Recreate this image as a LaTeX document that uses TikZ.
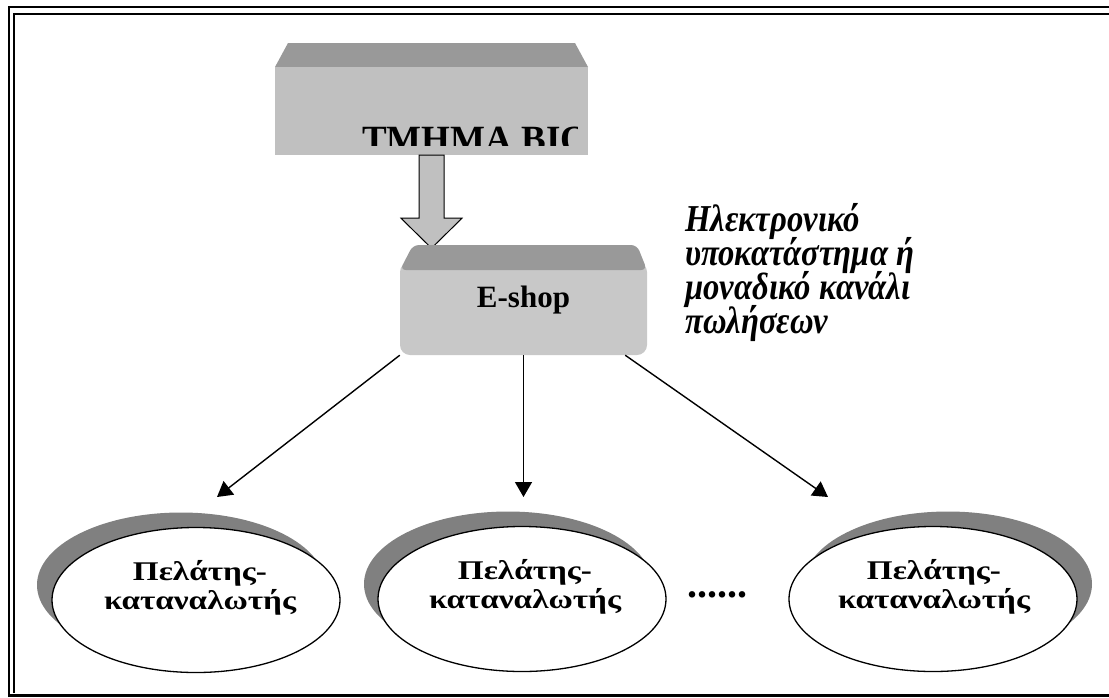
\documentclass[tikz,border=0pt]{standalone}
\usepackage{fontspec}
\setmainfont{Liberation Serif}
\newfontfamily\wideserif[FakeStretch=1.23]{Liberation Serif}
\newfontfamily\narrowserif[FakeStretch=0.86]{Liberation Serif}
\newcommand\notesetup{\fontsize{38}{34}\selectfont\lineskiplimit=-30pt\relax}
\usetikzlibrary{arrows.meta,shapes.geometric,shadows}
\definecolor{bevel}{HTML}{999999}
\definecolor{face}{HTML}{C0C0C0}
\definecolor{eface}{HTML}{C8C8C8}
\definecolor{shade}{HTML}{808080}
\begin{document}
\begin{tikzpicture}[x=1pt,y=-1pt,
  frameline/.style={line width=2.3pt},
  conn/.style={line width=1.4pt,-{Triangle[length=15pt,width=17pt]}},
  client/.style={ellipse, draw, line width=1.3pt, fill=white,
    minimum width=288pt, minimum height=145pt, inner sep=0pt},
  clienttext/.style={font=\wideserif\bfseries\fontsize{27}{28.5}\selectfont, align=center, inner sep=0pt},
  boxtext/.style={inner sep=0pt, font=\bfseries\fontsize{31}{31}\selectfont},
  notetext/.style={align=left, inner sep=0pt,
    font=\narrowserif\bfseries\itshape\notesetup},
  ]
\useasboundingbox (0,0) rectangle (1109,697);
% frame
\draw[frameline] (9,697) -- (9,7) -- (1109,7);
\draw[frameline] (14.3,693) -- (14.3,14) -- (1109,14);
\draw[line width=3pt] (9,695) -- (1109,695);

% top 3D box
\fill[bevel] (275,67) -- (288,43) -- (575,43) -- (588,67) -- cycle;
\node[fill=face, minimum width=313pt, minimum height=88pt, inner sep=0pt] (top) at (431.5,111) {};
\begin{scope}
\clip (275,67) rectangle (577,145);
\node[anchor=base west, inner sep=0pt, font=\bfseries\fontsize{37}{37}\selectfont] (toptext) at (362,151) {ΤΜΗΜΑ ΒΙΟ};
\end{scope}

% block arrow
\draw[fill=face, line width=1pt] (top.south) ++(-12.5,0) -- ++(0,63) -- ++(-18,0)
  -- ++(30.5,30) -- ++(30.5,-30) -- ++(-18,0) -- ++(0,-63) -- cycle;

% E-shop 3D box
\fill[eface, rounded corners=10pt] (400,262) rectangle (647,355);
\fill[bevel, rounded corners=6pt] (400,270) -- (413,245) -- (637,245) -- (647,270) -- cycle;
\node[boxtext, minimum width=247pt, minimum height=110pt] (eshop) at (523.5,300) {E-shop};

% side note
\node[notetext, anchor=north west] (note) at (685,203)
  {Ηλεκτρονικό\\υποκατάστημα ή\\μοναδικό κανάλι\\πωλήσεων};

% clients
\node[client, general shadow={fill=shade, shadow xshift=-15pt, shadow yshift=15pt}] (c1) at (196,600) {};
\node[clienttext] (c1t) at (200,588) {Πελάτης-\\καταναλωτής};
\node[client, general shadow={fill=shade, shadow xshift=-14pt, shadow yshift=15pt}] (c2) at (522,599) {};
\node[clienttext] (c2t) at (525,587) {Πελάτης-\\καταναλωτής};
\node[client, general shadow={fill=shade, shadow xshift=15pt, shadow yshift=15pt}] (c3) at (933,599) {};
\node[clienttext] (c3t) at (934,587) {Πελάτης-\\καταναλωτής};
\node[anchor=base, inner sep=0pt, font=\bfseries\fontsize{40}{40}\selectfont] (dots) at (717.5,597) {......};

% connectors
\coordinate (t1) at (217,497);
\coordinate (t2) at (523.5,497);
\coordinate (t3) at (828,497);
\draw[conn] (eshop.south west) -- (t1);
\draw[conn] (eshop.south) -- (t2);
\draw[conn] ([xshift=-22pt]eshop.south east) -- (t3);
\end{tikzpicture}
\end{document}
